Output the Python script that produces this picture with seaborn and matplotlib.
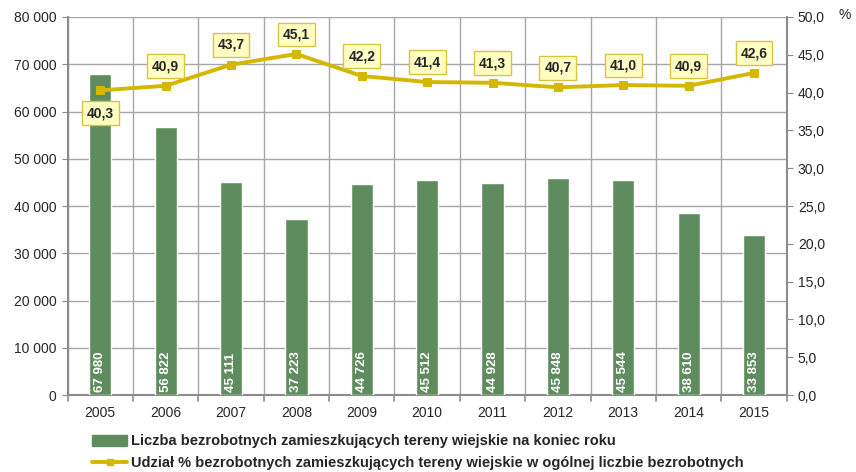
import numpy as np
import pandas as pd
import seaborn as sns
import matplotlib.pyplot as plt
from matplotlib.lines import Line2D
from matplotlib.patches import Patch
from matplotlib.ticker import FuncFormatter

# dane
lata = ['2005', '2006', '2007', '2008', '2009', '2010', '2011', '2012', '2013', '2014', '2015']
liczba = [67980, 56822, 45111, 37223, 44726, 45512, 44928, 45848, 45544, 38610, 33853]
udzial = [40.3, 40.9, 43.7, 45.1, 42.2, 41.4, 41.3, 40.7, 41.0, 40.9, 42.6]

zielony = '#5F8C5F'
zloty = '#D4B800'

sns.set_style('white')
plt.rcParams['font.family'] = ['Liberation Sans', 'DejaVu Sans']

df = pd.DataFrame({'rok': lata, 'liczba': liczba, 'udzial': udzial})

fig = plt.figure(figsize=(8.56, 4.72), dpi=100)
ax = fig.add_axes([0.079, 0.163, 0.840, 0.801])

sns.barplot(data=df, x='rok', y='liczba', color=zielony, width=0.34, saturation=1, ax=ax, zorder=3)
ax.set_xlim(-0.5, len(lata) - 0.5)
ax.set_ylim(0, 80000)
ax.set_yticks(np.arange(0, 80001, 10000))
ax.yaxis.set_major_formatter(FuncFormatter(lambda v, p: f'{int(v):,}'.replace(',', ' ')))
ax.set_xlabel('')
ax.set_ylabel('')

# siatka
for y in range(10000, 80001, 10000):
    ax.axhline(y, color='#A6A6A6', lw=1, zorder=1)
for i in range(len(lata) + 1):
    ax.axvline(i - 0.5, color='#A6A6A6', lw=1, zorder=1)

for s in ['top', 'right']:
    ax.spines[s].set_visible(False)
ax.spines['left'].set_color('#8C8C8C')
ax.spines['bottom'].set_color('#8C8C8C')
ax.spines['left'].set_linewidth(1.5)
ax.spines['bottom'].set_linewidth(1.5)
ax.tick_params(axis='y', labelsize=10, length=4, color='#8C8C8C', pad=4)
ax.tick_params(axis='x', labelsize=10, length=0, pad=8)
for i in range(len(lata) + 1):
    ax.plot([i - 0.5, i - 0.5], [0, -1200], color='#8C8C8C', lw=1.2, clip_on=False)

for i, v in enumerate(liczba):
    ax.text(i, 600, f'{v:,}'.replace(',', ' '), rotation=90, ha='center', va='bottom',
            color='white', fontsize=9.5, fontweight='bold', zorder=4)

# os prawa
ax2 = ax.twinx()
sns.lineplot(x=np.arange(len(lata)), y=udzial, color=zloty, lw=2.8, marker='s', markersize=6,
             markeredgecolor=zloty, ax=ax2, zorder=5)
ax2.set_ylim(0, 50)
ax2.set_yticks(np.arange(0, 50.1, 5))
ax2.yaxis.set_major_formatter(FuncFormatter(lambda v, p: f'{v:.1f}'.replace('.', ',')))
ax2.tick_params(axis='y', labelsize=10, length=4, color='#8C8C8C', pad=4)
for s in ['top', 'left', 'bottom']:
    ax2.spines[s].set_visible(False)
ax2.spines['right'].set_color('#8C8C8C')
ax2.spines['right'].set_linewidth(1.5)
ax2.set_ylabel('')
fig.text(845 / 856, 1 - 15 / 472, '%', fontsize=10, ha='center', va='center')

for i, v in enumerate(udzial):
    dy = -3.0 if i == 0 else 2.6
    ax2.text(i, v + dy, f'{v:.1f}'.replace('.', ','), ha='center', va='center', fontsize=10,
             fontweight='bold', zorder=6,
             bbox=dict(boxstyle='square,pad=0.35', fc='#FFFFC4', ec='#D8C440', lw=1))

handles = [Patch(color=zielony, label='Liczba bezrobotnych zamieszkujących tereny wiejskie na koniec roku'),
           Line2D([0], [0], color=zloty, lw=2.8, marker='s', markersize=5,
                  label='Udział % bezrobotnych zamieszkujących tereny wiejskie w ogólnej liczbie bezrobotnych')]
fig.legend(handles=handles, loc='upper left', bbox_to_anchor=(0.099, 0.095), frameon=False,
           prop={'size': 10.5, 'weight': 'bold'}, handlelength=2.4, handleheight=0.8,
           labelspacing=0.55, borderpad=0, handletextpad=0.3)

fig.savefig('out.png', dpi=100)
